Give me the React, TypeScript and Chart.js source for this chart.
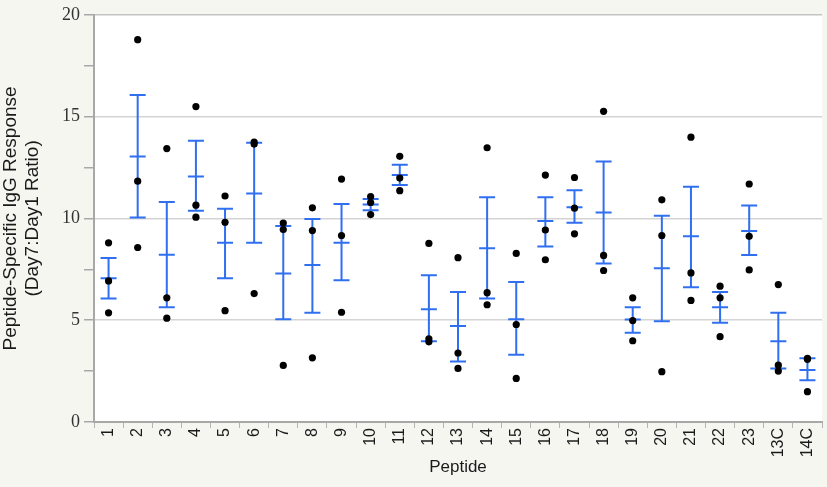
import { useEffect, useRef } from "react"
import { Chart, registerables } from "chart.js"

Chart.register(...registerables)

const peptides = [
  "1", "2", "3", "4", "5", "6", "7", "8", "9", "10", "11", "12", "13",
  "14", "15", "16", "17", "18", "19", "20", "21", "22", "23", "13C", "14C",
]

// individual animals (three per peptide)
const dotA = [8.8, 18.78, 13.43, 15.49, 11.1, 13.75, 9.77, 10.52, 11.93, 11.07, 13.05, 8.77, 8.07, 13.47, 8.28, 12.13, 12.01, 15.26, 6.1, 10.91, 13.99, 6.67, 11.69, 6.75, 3.13]
const dotB = [6.93, 11.83, 6.1, 10.65, 9.81, 13.65, 9.45, 9.4, 9.16, 10.78, 11.98, 4.09, 3.39, 6.35, 4.79, 9.43, 10.5, 8.18, 4.98, 9.16, 7.32, 6.1, 9.12, 2.79, 3.08]
const dotC = [5.36, 8.57, 5.1, 10.06, 5.47, 6.31, 2.78, 3.15, 5.39, 10.19, 11.36, 3.94, 2.63, 5.76, 2.14, 7.97, 9.24, 7.44, 3.99, 2.47, 5.97, 4.19, 7.47, 2.5, 1.49]

// mean and SEM range
const means = [7.06, 13.04, 8.21, 12.06, 8.8, 11.22, 7.29, 7.71, 8.8, 10.68, 12.13, 5.54, 4.71, 8.54, 5.05, 9.87, 10.55, 10.29, 5.03, 7.55, 9.12, 5.63, 9.38, 3.96, 2.55]
const semLow = [6.06, 10.05, 5.63, 10.37, 7.06, 8.8, 5.05, 5.37, 6.96, 10.4, 11.64, 3.96, 2.97, 6.06, 3.3, 8.62, 9.79, 7.79, 4.38, 4.95, 6.62, 4.87, 8.2, 2.63, 2.05]
const semHigh = [8.05, 16.06, 10.8, 13.81, 10.47, 13.72, 9.63, 9.97, 10.71, 10.95, 12.63, 7.21, 6.38, 11.04, 6.88, 11.04, 11.38, 12.79, 5.63, 10.13, 11.56, 6.38, 10.63, 5.37, 3.13]

const blue = "#2f6ff0"
const axisGray = "#a8a8a8"
const pageBg = "#f6f6f1"

const backgrounds = {
  id: "backgrounds",
  beforeDraw(chart: Chart) {
    const { ctx, chartArea } = chart
    ctx.save()
    ctx.fillStyle = pageBg
    ctx.fillRect(0, 0, chart.width, chart.height)
    ctx.fillStyle = "#ffffff"
    ctx.fillRect(chartArea.left, chartArea.top, chartArea.right - chartArea.left, chartArea.bottom - chartArea.top)
    ctx.restore()
  },
}

const errorBars = {
  id: "errorBars",
  beforeDatasetsDraw(chart: Chart) {
    const { ctx } = chart
    const x = chart.scales.x
    const y = chart.scales.y
    ctx.save()
    ctx.strokeStyle = blue
    ctx.lineWidth = 2
    means.forEach((m, i) => {
      const px = x.getPixelForValue(i)
      const half = 8
      const lo = y.getPixelForValue(semLow[i])
      const hi = y.getPixelForValue(semHigh[i])
      ctx.beginPath()
      ctx.moveTo(px, lo)
      ctx.lineTo(px, hi)
      for (const py of [lo, y.getPixelForValue(m), hi]) {
        ctx.moveTo(px - half, py)
        ctx.lineTo(px + half, py)
      }
      ctx.stroke()
    })
    ctx.restore()
  },
}

function dotSet(label: string, data: number[]) {
  return {
    label,
    data,
    showLine: false,
    pointRadius: 3.6,
    pointBackgroundColor: "#000000",
    pointBorderWidth: 0,
    pointHoverRadius: 3.6,
  }
}

export default function App() {
  const chartRef = useRef<HTMLCanvasElement>(null)
  const chartInstance = useRef<Chart | null>(null)

  useEffect(() => {
    if (!chartRef.current) return
    const ctx = chartRef.current.getContext("2d")
    if (!ctx) return

    chartInstance.current = new Chart(ctx, {
      type: "line",
      data: {
        labels: peptides,
        datasets: [dotSet("a", dotA), dotSet("b", dotB), dotSet("c", dotC)],
      },
      plugins: [backgrounds, errorBars],
      options: {
        animation: false,
        responsive: true,
        maintainAspectRatio: false,
        layout: { padding: { top: 11, right: 5, left: 0, bottom: 0 } },
        plugins: {
          legend: { display: false },
          tooltip: { enabled: false },
        },
        scales: {
          x: {
            type: "category",
            offset: true,
            border: { color: axisGray, width: 2 },
            grid: {
              offset: true,
              drawOnChartArea: false,
              tickLength: 6,
              tickColor: "#b4b4b4",
              color: "#b4b4b4",
            },
            ticks: {
              autoSkip: false,
              minRotation: 90,
              maxRotation: 90,
              padding: 0,
              color: "#1a1a1a",
              font: { family: "Liberation Sans", size: 16 },
            },
            title: {
              display: true,
              text: "Peptide",
              color: "#1a1a1a",
              font: { family: "Liberation Sans", size: 17, lineHeight: 1.3 },
              padding: { top: 0, bottom: 9 },
            },
            afterFit: (scale) => {
              scale.height = 65
            },
          },
          y: {
            min: 0,
            max: 20,
            border: { color: axisGray, width: 2 },
            grid: {
              color: (c) => {
                const v = c.tick ? c.tick.value : 0
                if (v === 20) return "#c4c4c4"
                if (v === 5 || v === 10 || v === 15) return "#d4d4d4"
                return "rgba(0,0,0,0)"
              },
              lineWidth: 1.5,
              tickLength: 10,
              tickColor: axisGray,
            },
            ticks: {
              stepSize: 2.5,
              padding: 4,
              color: "#333333",
              font: { family: "Liberation Serif", size: 18 },
              callback: (v) => (Number(v) % 5 === 0 ? String(v) : ""),
            },
            title: {
              display: true,
              text: ["Peptide-Specific IgG Response", "(Day7:Day1 Ratio)"],
              color: "#1a1a1a",
              font: { family: "Liberation Sans", size: 19, lineHeight: 1.15 },
              padding: { top: 0, bottom: 0 },
            },
            afterFit: (scale) => {
              scale.width = 94
            },
          },
        },
      },
    })

    return () => {
      if (chartInstance.current) {
        chartInstance.current.destroy()
        chartInstance.current = null
      }
    }
  }, [])

  return (
    <div style={{ position: "fixed", left: 0, top: 0, width: 827, height: 487, background: pageBg }}>
      <canvas ref={chartRef} />
    </div>
  )
}
